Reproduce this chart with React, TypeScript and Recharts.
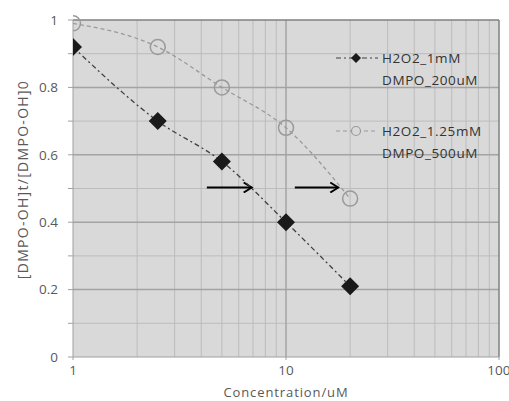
import React from 'react';
import {
  LineChart, Line, XAxis, YAxis, ReferenceLine, ReferenceArea,
} from 'recharts';

const concentrations = [1, 2.5, 5, 10, 20];
const seriesH2O2_1mM = [0.92, 0.70, 0.58, 0.40, 0.21];
const seriesH2O2_125mM = [0.99, 0.92, 0.80, 0.68, 0.47];

const seriesNames = ['H2O2_1mM\nDMPO_200uM', 'H2O2_1.25mM\nDMPO_500uM'];

const xTicks = [1, 10, 100];
const xMinorGrid = [2, 3, 4, 5, 6, 7, 8, 9, 20, 30, 40, 50, 60, 70, 80, 90];
const yTicks = [0, 0.1, 0.2, 0.3, 0.4, 0.5, 0.6, 0.7, 0.8, 0.9, 1.0];
const yMajorGrid = [0.2, 0.4, 0.6, 0.8];
const yMinorGrid = [0.1, 0.3, 0.5, 0.7, 0.9];

const xLabel = 'Concentration/uM';
const yLabel = '[DMPO-OH]t/[DMPO-OH]0';

// annotation arrows (data space)
const arrowStartsX = [4.25, 11.0];
const arrowEndsX = [6.9, 17.6];
const arrowY = [0.503, 0.503];

const data = concentrations.map((c, i) => ({
  c,
  s1: seriesH2O2_1mM[i],
  s2: seriesH2O2_125mM[i],
}));

const FONT = '"Open Sans", sans-serif';
const TEXT = '#595959';

const Diamond = (props: any) => {
  const { cx, cy } = props;
  if (cx == null || cy == null) return null;
  const r = 9;
  return (
    <polygon
      points={`${cx},${cy - r} ${cx + r},${cy} ${cx},${cy + r} ${cx - r},${cy}`}
      fill="#1a1a1a"
      stroke="none"
    />
  );
};

const Ring = (props: any) => {
  const { cx, cy } = props;
  if (cx == null || cy == null) return null;
  return <circle cx={cx} cy={cy} r={7.5} fill="none" stroke="#9a9a9a" strokeWidth={1.5} />;
};

const YLabel = (props: any) => {
  const vb = props.viewBox || {};
  const x = (vb.x ?? 0) + 22;
  const y = (vb.y ?? 0) + (vb.height ?? 0) / 2 - 9;
  return (
    <text
      x={x}
      y={y}
      transform={`rotate(-90, ${x}, ${y})`}
      textAnchor="middle"
      dominantBaseline="central"
      fill={TEXT}
      fontSize={14}
      fontFamily={FONT}
      letterSpacing={1.3}
    >
      {yLabel}
    </text>
  );
};

const XLabel = (props: any) => {
  const vb = props.viewBox || {};
  const x = (vb.x ?? 0) + (vb.width ?? 0) / 2;
  const y = (vb.y ?? 0) + 35;
  return (
    <text
      x={x}
      y={y}
      textAnchor="middle"
      dominantBaseline="central"
      fill={TEXT}
      fontSize={13}
      fontFamily={FONT}
      letterSpacing={0.9}
    >
      {xLabel}
    </text>
  );
};

const LegendOverlay = () => {
  const items = [
    { name: seriesNames[0], kind: 'diamond' },
    { name: seriesNames[1], kind: 'ring' },
  ];
  return (
    <div style={{ position: 'absolute', left: 336, top: 47, fontFamily: FONT, fontSize: 13.5, color: '#333' }}>
      {items.map((it, i) => (
        <div key={i} style={{ display: 'flex', alignItems: 'flex-start', marginBottom: i === 0 ? 29 : 0 }}>
          <svg width={46} height={22} style={{ flex: 'none', display: 'block' }}>
            {it.kind === 'diamond' ? (
              <g>
                <line x1={0} y1={11} x2={42} y2={11} stroke="#404040" strokeWidth={1.2} strokeDasharray="5 3 2 3" />
                <polygon points="20,6 25,11 20,16 15,11" fill="#1a1a1a" />
              </g>
            ) : (
              <g>
                <line x1={0} y1={11} x2={42} y2={11} stroke="#9a9a9a" strokeWidth={1.2} strokeDasharray="4 3" />
                <circle cx={20} cy={11} r={4.5} fill="#d9d9d9" stroke="#9a9a9a" strokeWidth={1.2} />
              </g>
            )}
          </svg>
          <div style={{ lineHeight: '22px', whiteSpace: 'pre', letterSpacing: 0.6 }}>{it.name}</div>
        </div>
      ))}
    </div>
  );
};

export default function App() {
  return (
    <div style={{ position: 'absolute', left: 0, top: 0, width: 509, height: 401, background: '#ffffff' }}>
      <LineChart
        width={509}
        height={401}
        data={data}
        margin={{ top: 20, right: 10, bottom: 0, left: 0 }}
      >
        <defs>
          <marker id="arrowHead" markerWidth="12" markerHeight="12" refX="10" refY="6" orient="auto" markerUnits="userSpaceOnUse">
            <path d="M2,1 L10,6 L2,11" fill="none" stroke="#000" strokeWidth={2} />
          </marker>
        </defs>
        <ReferenceArea x1={1} x2={100} y1={0} y2={1} fill="#d9d9d9" fillOpacity={1} stroke="none" />
        {yMinorGrid.map((v) => (
          <ReferenceLine key={`ym${v}`} y={v} stroke="#bcbcbc" strokeWidth={1} />
        ))}
        {xMinorGrid.map((v) => (
          <ReferenceLine key={`xm${v}`} x={v} stroke="#bcbcbc" strokeWidth={1} />
        ))}
        {yMajorGrid.map((v) => (
          <ReferenceLine key={`yM${v}`} y={v} stroke="#a3a3a3" strokeWidth={1.5} />
        ))}
        <ReferenceLine x={10} stroke="#a3a3a3" strokeWidth={1.5} />
        <ReferenceLine y={1} stroke="#808080" strokeWidth={1.5} />
        <ReferenceLine x={100} stroke="#808080" strokeWidth={1.5} />
        <XAxis
          dataKey="c"
          type="number"
          scale="log"
          domain={[1, 100]}
          ticks={xTicks}
          allowDataOverflow
          height={44}
          tickSize={3}
          tickMargin={5}
          stroke="#a0a0a0"
          tick={{ fill: TEXT, fontSize: 13.5, fontFamily: FONT }}
          label={<XLabel />}
        />
        <YAxis
          type="number"
          domain={[0, 1]}
          ticks={yTicks}
          interval={0}
          width={73}
          tickSize={5}
          tickMargin={10}
          stroke="#a0a0a0"
          tickFormatter={(v: number) => (Math.round(v * 10) % 2 === 0 ? String(Math.round(v * 10) / 10) : '')}
          tick={{ fill: TEXT, fontSize: 13.5, fontFamily: FONT }}
          label={<YLabel />}
        />
        {arrowStartsX.map((x0, i) => (
          <ReferenceLine
            key={`arr${i}`}
            segment={[{ x: x0, y: arrowY[i] }, { x: arrowEndsX[i], y: arrowY[i] }]}
            stroke="#000"
            strokeWidth={2}
            markerEnd="url(#arrowHead)"
          />
        ))}
        <Line
          type="monotone"
          dataKey="s2"
          name={seriesNames[1]}
          stroke="#9a9a9a"
          strokeWidth={1.3}
          strokeDasharray="4 3"
          dot={<Ring />}
          isAnimationActive={false}
        />
        <Line
          type="monotone"
          dataKey="s1"
          name={seriesNames[0]}
          stroke="#404040"
          strokeWidth={1.3}
          strokeDasharray="5 3 2 3"
          dot={<Diamond />}
          isAnimationActive={false}
        />
      </LineChart>
      <LegendOverlay />
    </div>
  );
}
